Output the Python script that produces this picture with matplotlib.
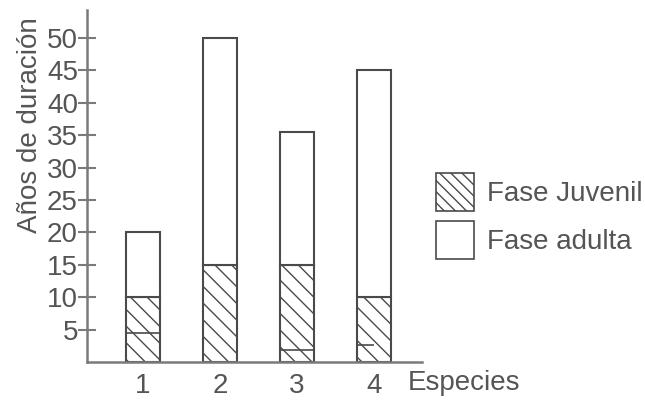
import numpy as np
import matplotlib.pyplot as plt
from matplotlib.patches import Patch

plt.rcParams['font.family'] = ['Liberation Sans', 'DejaVu Sans']
plt.rcParams['hatch.linewidth'] = 1.0

especies = [1, 2, 3, 4]
fase_juvenil = [10, 15, 15, 10]
total = [20, 50, 35.5, 45]
fase_adulta = [t - j for t, j in zip(total, fase_juvenil)]
# little marks left inside the hatched part (as in the original drawing)
marcas = [4.5, None, 1.9, 2.6]
marcas_ancho = [1.0, 0.0, 1.0, 0.5]
yticks = [5, 10, 15, 20, 25, 30, 35, 40, 45, 50]

edge = "#4a4a4a"
axis_col = "#7a7a7a"
text_col = "#555555"
fs = 20

fig = plt.figure(figsize=(6.45, 4.04), dpi=100)
ax = fig.add_axes([87/645, 1 - 362/404, 335/645, 352/404])

x = np.array(especies)
w = 0.43
ax.bar(x, fase_juvenil, w, color="white", edgecolor=edge, hatch="\\\\", linewidth=1.5)
ax.bar(x, fase_adulta, w, bottom=fase_juvenil, color="white", edgecolor=edge, linewidth=1.5)

for xi, m, f in zip(x, marcas, marcas_ancho):
    if m is None:
        continue
    ax.hlines(m, xi - w/2, xi - w/2 + w*f, color=edge, linewidth=1.2)

ax.set_xlim(0.273, 4.623)
ax.set_ylim(0, 54.3)
ax.set_yticks(yticks)
ax.set_xticks(especies)

for s in ["top", "right"]:
    ax.spines[s].set_visible(False)
for s in ["left", "bottom"]:
    ax.spines[s].set_color(axis_col)
    ax.spines[s].set_linewidth(1.8)

ax.tick_params(axis="y", direction="inout", length=13, width=1.5, color=axis_col,
               labelsize=fs, labelcolor=text_col, pad=0)
ax.tick_params(axis="x", length=0, labelsize=fs, labelcolor=text_col, pad=8)

ax.set_ylabel("Años de duración", fontsize=fs, color=text_col)
ax.yaxis.set_label_coords(-0.13, 0.672)

fig.text(408/645, 1 - 383/404, "Especies", fontsize=fs, color=text_col,
         ha="left", va="center")

handles = [Patch(facecolor="white", edgecolor=edge, hatch="\\\\\\", linewidth=1.2),
           Patch(facecolor="white", edgecolor=edge, linewidth=1.2)]
fig.legend(handles, ["Fase Juvenil", "Fase adulta"], loc="upper left",
           bbox_to_anchor=(436/645, 1 - 173/404), frameon=False, fontsize=fs,
           handlelength=1.37, handleheight=1.72, labelspacing=0.36,
           handletextpad=0.45, borderpad=0, borderaxespad=0, labelcolor=text_col)

plt.savefig("out.png", dpi=100)
